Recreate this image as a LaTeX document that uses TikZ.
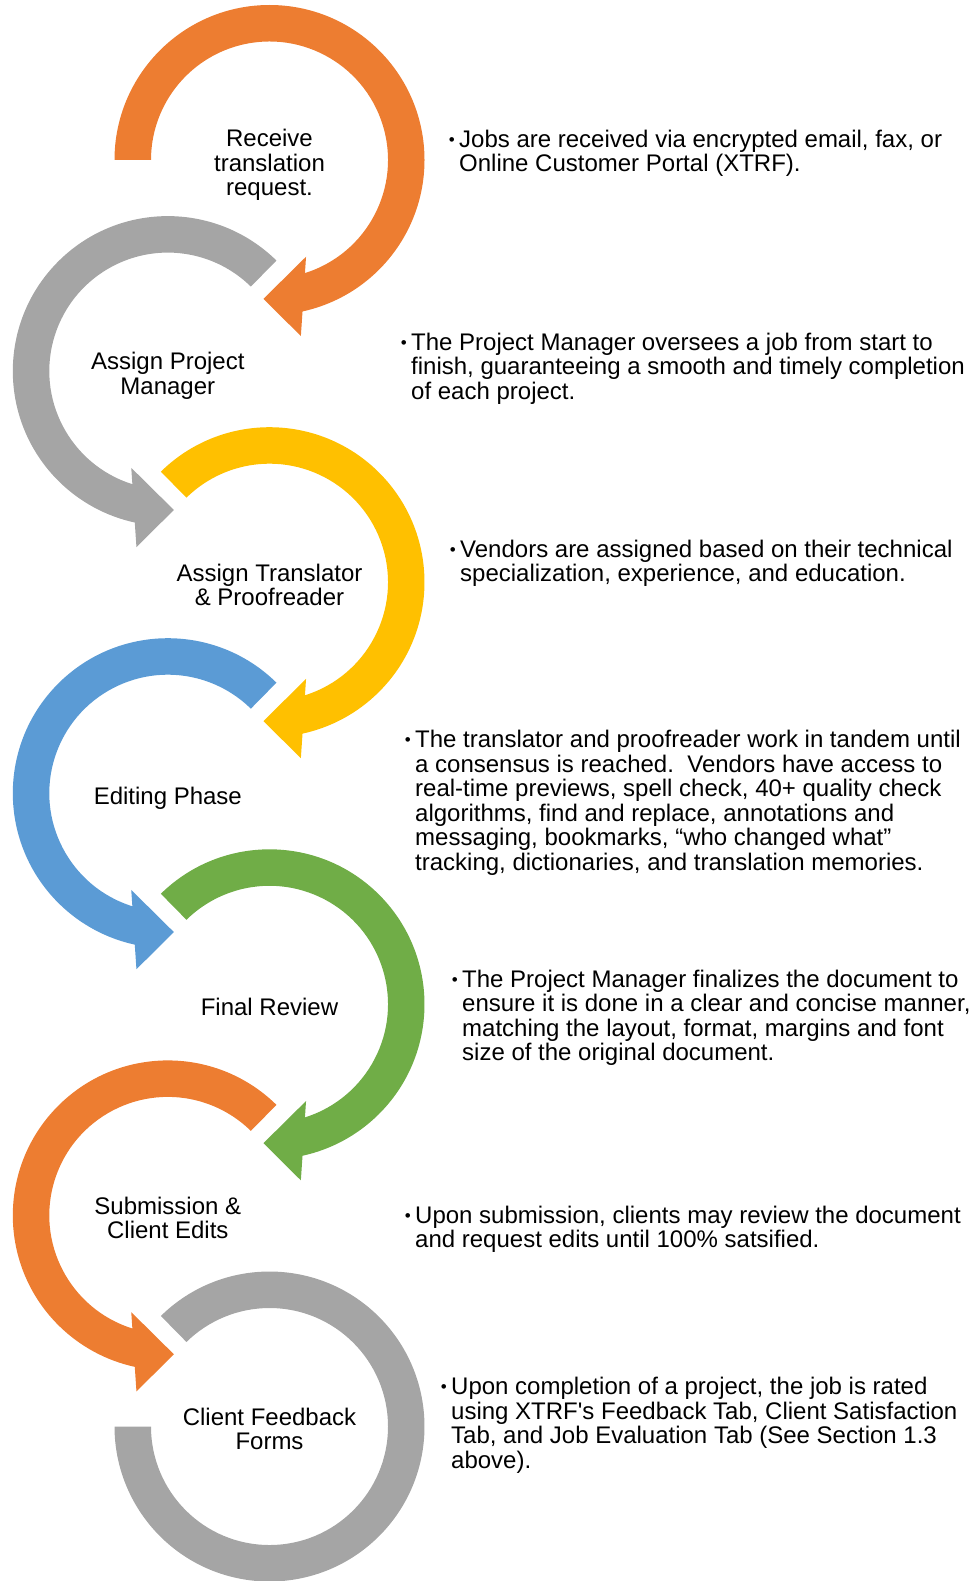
\documentclass[tikz,border=0pt]{standalone}
\usepackage{fontspec}
\newfontfamily\arialfont{Liberation Sans}

\definecolor{flowOrange}{HTML}{ED7D31}
\definecolor{flowGray}{HTML}{A5A5A5}
\definecolor{flowGold}{HTML}{FFC000}
\definecolor{flowBlue}{HTML}{5B9BD5}
\definecolor{flowGreen}{HTML}{70AD47}

% circular arrow round the origin, turning clockwise from angle #1
\newcommand{\loopArrow}[2]{%
  \fill[#2] (#1:155) arc[start angle=#1, end angle=-77.7, radius=155]
    -- (-79.9:178.8) -- (-92.5:139) -- (-69.3:103.4) -- (-72.6:118.5)
    arc[start angle=-72.6, end angle=#1, radius=118.5] -- cycle;}
\newcommand{\bulletmark}{\llap{\raisebox{2pt}{\fontsize{17}{17}\selectfont\textbullet}\hspace{4.5pt}}}

\begin{document}
\begin{tikzpicture}[x=1pt, y=1pt,
    stagelabel/.style={anchor=base, align=center, inner sep=0pt, font=\arialfont\fontsize{24}{24.5}\selectfont},
    stagenote/.style={anchor=base west, align=left, inner sep=0pt, font=\arialfont\fontsize{24}{24.5}\selectfont}]
  \useasboundingbox (0,0) rectangle (975,-1581);

  % Circular arrows (right column turns clockwise, left column is mirrored)
  \begin{scope}[shift={(269.5,-160)}]
    \loopArrow{180}{flowOrange}
  \end{scope}
  \begin{scope}[shift={(167.8,-371.1)}, xscale=-1]
    \loopArrow{134.5}{flowGray}
  \end{scope}
  \begin{scope}[shift={(269.5,-582.2)}]
    \loopArrow{134.5}{flowGold}
  \end{scope}
  \begin{scope}[shift={(167.8,-793.2)}, xscale=-1]
    \loopArrow{134.5}{flowBlue}
  \end{scope}
  \begin{scope}[shift={(269.5,-1004.3)}]
    \loopArrow{134.5}{flowGreen}
  \end{scope}
  \begin{scope}[shift={(167.8,-1215.4)}, xscale=-1]
    \loopArrow{134.5}{flowOrange}
  \end{scope}
  % last one has no head
  \begin{scope}[shift={(269.5,-1426.5)}]
    \fill[flowGray] (134.5:155) arc[start angle=134.5, end angle=-180, radius=155]
      -- (-180:118.5) arc[start angle=-180, end angle=134.5, radius=118.5] -- cycle;
  \end{scope}

  % Stage names inside the arrows (placed at the last baseline)
  \node[stagelabel] (receive) at (269.5,-195.5) {Receive\\translation\\request.};
  \node[stagelabel] (assignpm) at (167.8,-394.4) {Assign Project\\Manager};
  \node[stagelabel] (assigntp) at (269.5,-605.5) {Assign Translator\\\& Proofreader};
  \node[stagelabel] (editing) at (167.8,-804.2) {Editing Phase};
  \node[stagelabel] (review) at (269.5,-1015.3) {Final Review};
  \node[stagelabel] (submission) at (167.8,-1238.7) {Submission \&\\Client Edits};
  \node[stagelabel] (feedback) at (269.5,-1449.8) {Client Feedback\\Forms};

  % Notes beside each stage (placed at the last baseline)
  \node[stagenote] (receive-note) at (459,-171.8) {\bulletmark Jobs are received via encrypted email, fax, or\\Online Customer Portal (XTRF).};
  \node[stagenote] (assignpm-note) at (411,-399) {\bulletmark The Project Manager oversees a job from start to\\finish, guaranteeing a smooth and timely completion\\of each project.};
  \node[stagenote] (assigntp-note) at (460,-581.8) {\bulletmark Vendors are assigned based on their technical\\specialization, experience, and education.};
  \node[stagenote] (editing-note) at (415,-870.2) {\bulletmark The translator and proofreader work in tandem until\\a consensus is reached.\ \ Vendors have access to\\real-time previews, spell check, 40+ quality check\\algorithms, find and replace, annotations and\\messaging, bookmarks, “who changed what”\\tracking, dictionaries, and translation memories.};
  \node[stagenote] (review-note) at (462,-1060.8) {\bulletmark The Project Manager finalizes the document to\\ensure it is done in a clear and concise manner,\\matching the layout, format, margins and font\\size of the original document.};
  \node[stagenote] (submission-note) at (415,-1247.8) {\bulletmark Upon submission, clients may review the document\\and request edits until 100\% satsified.};
  \node[stagenote] (feedback-note) at (451,-1468) {\bulletmark Upon completion of a project, the job is rated\\using XTRF's Feedback Tab, Client Satisfaction\\Tab, and Job Evaluation Tab (See Section 1.3\\above).};
\end{tikzpicture}
\end{document}
